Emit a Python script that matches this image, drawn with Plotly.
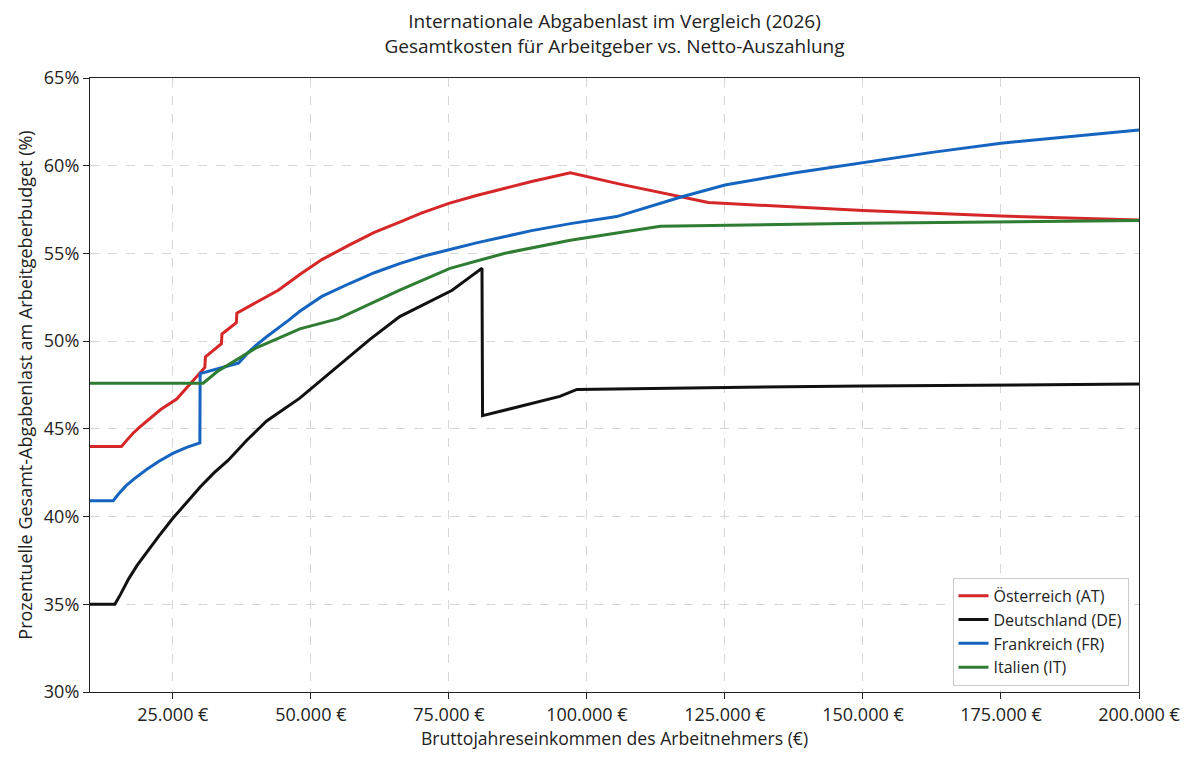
import plotly.graph_objects as go

# Einkommen (€) und Abgabenlast (%) je Land
at_income = [10000, 15700, 16800, 17800, 19000, 20300, 22800, 25700, 30800, 30900,
             33800, 33900, 36500, 36600, 40000, 44100, 48000, 52000, 57100, 61500,
             66200, 70000, 75000, 80000, 85000, 90000, 97000, 106000, 122000,
             135000, 150000, 175000, 200000]
at_share = [44.0, 44.0, 44.4, 44.75, 45.1, 45.45, 46.1, 46.7, 48.5, 49.1,
            49.85, 50.4, 51.05, 51.6, 52.2, 52.9, 53.8, 54.65, 55.5, 56.2,
            56.8, 57.3, 57.85, 58.3, 58.7, 59.1, 59.6, 58.95, 57.9,
            57.7, 57.44, 57.13, 56.9]

de_income = [10000, 14500, 15500, 17000, 18500, 20000, 22500, 25000, 27500, 30000,
             32500, 35000, 38400, 42000, 48000, 55300, 60700, 66100, 75600, 78800,
             81000, 81100, 95100, 98200, 125000, 150000, 200000]
de_share = [35.0, 35.0, 35.55, 36.45, 37.2, 37.85, 38.9, 39.9, 40.8, 41.7,
            42.5, 43.2, 44.35, 45.45, 46.75, 48.7, 50.1, 51.4, 52.9, 53.65,
            54.15, 45.75, 46.85, 47.25, 47.35, 47.45, 47.55]

fr_income = [10000, 14200, 15200, 16500, 18000, 20300, 22500, 25000, 27500, 29900,
             29950, 36900, 38500, 40000, 42000, 44000, 46000, 48000, 52000, 57100,
             61500, 66200, 70500, 75200, 80000, 85000, 90000, 97000, 105400,
             116900, 125000, 137500, 150000, 162500, 175000, 187500, 200000]
fr_share = [40.9, 40.9, 41.3, 41.75, 42.15, 42.7, 43.15, 43.6, 43.95, 44.2,
            48.15, 48.75, 49.3, 49.75, 50.25, 50.7, 51.2, 51.7, 52.55, 53.3,
            53.9, 54.43, 54.85, 55.22, 55.6, 55.95, 56.3, 56.7, 57.1,
            58.2, 58.9, 59.58, 60.19, 60.76, 61.28, 61.68, 62.04]

it_income = [10000, 30500, 33000, 36900, 40000, 44400, 48000, 55000, 60500, 66200,
             75200, 78800, 85000, 97000, 113300, 150000, 200000]
it_share = [47.6, 47.6, 48.25, 49.0, 49.6, 50.2, 50.7, 51.28, 52.1, 52.92,
            54.15, 54.47, 55.0, 55.75, 56.55, 56.72, 56.87]

names = ["Österreich (AT)", "Deutschland (DE)", "Frankreich (FR)", "Italien (IT)"]
colors = ["#d62728", "#111111", "#1565c0", "#2e7d32"]

x_ticks = [25000, 50000, 75000, 100000, 125000, 150000, 175000, 200000]
x_labels = ["25.000 €", "50.000 €", "75.000 €", "100.000 €", "125.000 €",
            "150.000 €", "175.000 €", "200.000 €"]
y_ticks = [30, 35, 40, 45, 50, 55, 60, 65]
y_labels = [f"{v}%" for v in y_ticks]

fig = go.Figure()
series = [(at_income, at_share), (de_income, de_share),
          (fr_income, fr_share), (it_income, it_share)]
for (xs, ys), name, col in zip(series, names, colors):
    fig.add_trace(go.Scatter(
        x=xs, y=ys, mode="lines", name=name,
        line=dict(color=col, width=3)
    ))

axis_style = dict(
    showline=True, linecolor="#222", linewidth=1.2, mirror=True,
    ticks="outside", ticklen=6, tickcolor="#222",
    showgrid=True, gridcolor="#d6d6d6", griddash="dash", gridwidth=1,
    zeroline=False, tickfont=dict(size=18, color="#222")
)

fig.update_layout(
    width=1200, height=764,
    paper_bgcolor="white", plot_bgcolor="white",
    font=dict(family="Open Sans, sans-serif", color="#222"),
    title=dict(
        text="Internationale Abgabenlast im Vergleich (2026)<br>Gesamtkosten für Arbeitgeber vs. Netto-Auszahlung",
        x=0.5, xref="paper", xanchor="center", y=0.974, yanchor="top",
        font=dict(size=19, color="#222")
    ),
    xaxis=dict(axis_style, range=[10000, 200000], tickvals=x_ticks, ticktext=x_labels,
               title=dict(text="Bruttojahreseinkommen des Arbeitnehmers (€)",
                          font=dict(size=17.6), standoff=7)),
    yaxis=dict(axis_style, range=[30, 65], tickvals=y_ticks, ticktext=y_labels,
               title=dict(text="Prozentuelle Gesamt-Abgabenlast am Arbeitgeberbudget (%)",
                          font=dict(size=18), standoff=6)),
    legend=dict(
        x=0.99, y=0.01, xanchor="right", yanchor="bottom",
        bgcolor="rgba(255,255,255,0.9)", bordercolor="#cccccc", borderwidth=1,
        font=dict(size=16, color="#222"), tracegroupgap=2
    ),
    margin=dict(l=82, r=69, t=70, b=80)
)

fig.write_html("out.html")
